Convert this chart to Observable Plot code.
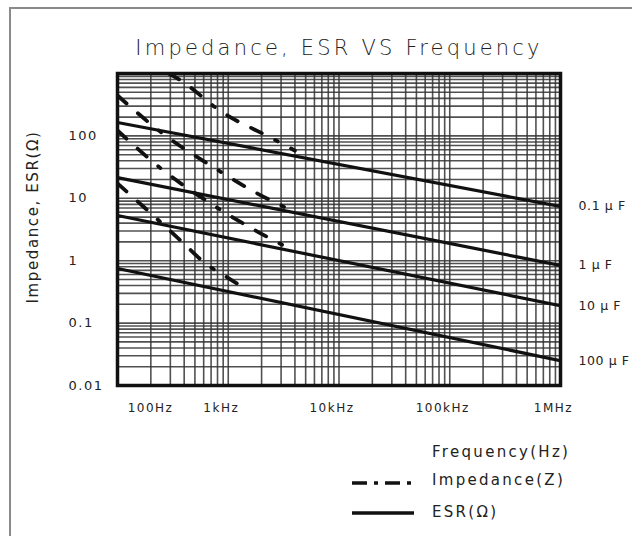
<!DOCTYPE html>
<html>
<head>
<meta charset="utf-8">
<script src="https://cdn.jsdelivr.net/npm/d3@7"></script>
<script src="https://cdn.jsdelivr.net/npm/@observablehq/plot@0.6"></script>
<style>
  html, body { margin: 0; padding: 0; background: #fff; }
  #wrap { position: relative; width: 632px; height: 536px; overflow: hidden; }
  #border { position: absolute; left: 9px; top: 7px; width: 640px; height: 560px; border-left: 2px solid #8a8a8a; border-top: 2px solid #8a8a8a; }
  #chart { position: absolute; left: 0; top: 0; }
  .lg { position: absolute; font-family: "DejaVu Sans", sans-serif; font-size: 15px; color: #222; letter-spacing: 2.3px; white-space: nowrap; }
  #ytitle { position: absolute; left: 33px; top: 217px; transform: translate(-50%, -50%) rotate(-90deg); font-family: "DejaVu Sans", sans-serif; font-size: 15px; color: #222; letter-spacing: 1.6px; white-space: nowrap; }
</style>
</head>
<body>
<div id="wrap">
  <div id="border"></div>
  <div id="chart"></div>
  <div id="ytitle"></div>
  <div class="lg" id="lgf" style="left:432px; top:443px;"></div>
  <div class="lg" id="lgz" style="left:432px; top:471px;"></div>
  <div class="lg" id="lge" style="left:432px; top:503px;"></div>
  <svg style="position:absolute; left:0; top:0;" width="632" height="536">
    <line x1="352" x2="414" y1="483" y2="483" stroke="#111" stroke-width="3.5" stroke-dasharray="15,7,4,7" />
    <line x1="352" x2="414" y1="513" y2="513" stroke="#111" stroke-width="3.5" />
  </svg>
</div>
<script>
// ---- data ----
const title = "Impedance, ESR VS Frequency";
const yTitle = "Impedance, ESR(Ω)";
const legendLabels = ["Frequency(Hz)", "Impedance(Z)", "ESR(Ω)"];
const freqTicks = [100, 1000, 10000, 100000, 1000000];
const freqLabels = ["100Hz", "1kHz", "10kHz", "100kHz", "1MHz"];
const valTicks = [100, 10, 1, 0.1, 0.01];
const valLabels = ["100", "10", "1", "0.1", "0.01"];
const capLabels = ["0.1 µ F", "1 µ F", "10 µ F", "100 µ F"];

// ESR (solid) lines: values at 100 Hz and 1 MHz
const esrFreq = [100, 1000000];
const esr01 = [164, 7.4];
const esr1 = [21.5, 0.84];
const esr10 = [5.3, 0.19];
const esr100 = [0.75, 0.025];

// Impedance (dash-dot) lines
const zFreq01 = [290, 350, 890, 2500, 4000];
const z01 = [1000, 830, 237, 91, 58];
const zFreq1 = [100, 271, 692, 1837, 3288];
const z1 = [444, 101, 33.6, 11.9, 7.1];
const zFreq10 = [100, 260, 692, 1762, 3155];
const z10 = [122, 27.9, 8.26, 3.05, 1.75];
const zFreq100 = [100, 179, 371, 624, 984, 1524];
const z100 = [17.3, 6.87, 2.11, 0.9, 0.537, 0.333];

// ---- build ----
document.getElementById("ytitle").textContent = yTitle;
document.getElementById("lgf").textContent = legendLabels[0];
document.getElementById("lgz").textContent = legendLabels[1];
document.getElementById("lge").textContent = legendLabels[2];

const esrSeries = [esr01, esr1, esr10, esr100];
const esrRows = esrSeries.flatMap((vals, i) => vals.map((v, j) => ({cap: capLabels[i], f: esrFreq[j], v})));
const zSeries = [[zFreq01, z01], [zFreq1, z1], [zFreq10, z10], [zFreq100, z100]];
const zRows = zSeries.flatMap(([fs, vs], i) => vs.map((v, j) => ({cap: capLabels[i], f: fs[j], v})));
const capEnds = esrSeries.map((vals, i) => ({label: capLabels[i], f: esrFreq[esrFreq.length - 1], v: vals[vals.length - 1]}));
const xTickRows = freqTicks.map((f, i) => ({f, label: freqLabels[i]}));
const yTickRows = valTicks.map((v, i) => ({v, label: valLabels[i]}));

const xGrid = d3.scaleLog().domain([100, 1e6]).ticks();
const yGrid = d3.scaleLog().domain([0.01, 1000]).ticks();

const font = "DejaVu Sans, sans-serif";

const chart = Plot.plot({
  width: 632,
  height: 430,
  marginLeft: 117,
  marginRight: 72,
  marginTop: 73,
  marginBottom: 45,
  x: {type: "log", domain: [100, 1e6], axis: null},
  y: {type: "log", domain: [0.01, 1000], axis: null},
  style: {fontFamily: font, background: "transparent", color: "#222", overflow: "visible"},
  marks: [
    Plot.ruleX(xGrid, {stroke: "#333", strokeWidth: 1.6, strokeOpacity: 0.85}),
    Plot.ruleY(yGrid, {stroke: "#333", strokeWidth: 1.6, strokeOpacity: 0.85}),
    Plot.line(esrRows, {x: "f", y: "v", z: "cap", stroke: "#111", strokeWidth: 3.2, clip: true}),
    Plot.line(zRows, {x: "f", y: "v", z: "cap", stroke: "#111", strokeWidth: 3.8, strokeDasharray: "12,15,12,15,3,15", clip: true, curve: "monotone-x"}),
    Plot.frame({stroke: "#111", strokeWidth: 3.5}),
    Plot.text([title], {frameAnchor: "top", dy: -33, fontSize: 21, fontWeight: 300, fill: "#222", className: "ttl"}),
    Plot.text(yTickRows, {y: "v", text: "label", frameAnchor: "left", dx: -49, textAnchor: "start", fontSize: 13, fill: "#222"}),
    Plot.text(xTickRows.slice(0, 1), {x: "f", text: "label", frameAnchor: "bottom", dy: 26, dx: 33, fontSize: 12, fill: "#222"}),
    Plot.text(xTickRows.slice(1), {x: "f", text: "label", frameAnchor: "bottom", dy: 26, dx: -7, fontSize: 12, fill: "#222"}),
    Plot.text(capEnds, {x: "f", y: "v", text: "label", dx: 18, textAnchor: "start", fontSize: 12.5, fill: "#222", className: "caps"})
  ]
});
chart.querySelectorAll("text").forEach(t => t.style.letterSpacing = "1.5px");
chart.querySelectorAll(".ttl text").forEach(t => t.style.letterSpacing = "3.2px");
chart.querySelectorAll(".caps text").forEach(t => t.style.letterSpacing = "0.6px");
document.getElementById("chart").appendChild(chart);
</script>
</body>
</html>
